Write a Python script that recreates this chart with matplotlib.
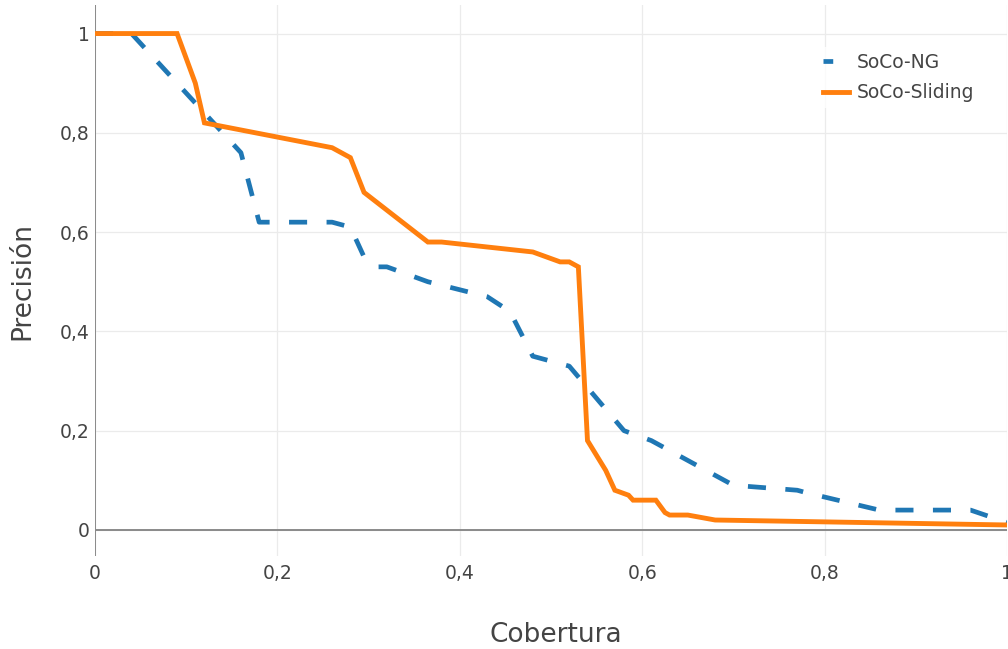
import matplotlib
matplotlib.use("Agg")
import matplotlib.pyplot as plt
from matplotlib.lines import Line2D
from matplotlib.ticker import FuncFormatter

# recall (x) / precision (y)
ng_recall = [0, 0.04, 0.16, 0.18, 0.26, 0.28, 0.295, 0.31, 0.32, 0.365, 0.43, 0.455,
             0.48, 0.5, 0.52, 0.58, 0.61, 0.7, 0.77, 0.78, 0.86, 0.96, 1.0]
ng_precision = [1, 1, 0.76, 0.62, 0.62, 0.61, 0.55, 0.53, 0.53, 0.5, 0.47, 0.44,
                0.35, 0.34, 0.33, 0.2, 0.18, 0.09, 0.08, 0.075, 0.04, 0.04, 0.015]

sl_recall = [0, 0.09, 0.11, 0.12, 0.26, 0.28, 0.295, 0.365, 0.38, 0.48, 0.51, 0.52,
             0.53, 0.54, 0.56, 0.57, 0.585, 0.59, 0.615, 0.625, 0.63, 0.65, 0.68, 1.0]
sl_precision = [1, 1, 0.9, 0.82, 0.77, 0.75, 0.68, 0.58, 0.58, 0.56, 0.54, 0.54,
                0.53, 0.18, 0.12, 0.08, 0.07, 0.06, 0.06, 0.035, 0.03, 0.03, 0.02, 0.01]

series_names = ["SoCo-NG", "SoCo-Sliding"]
ticks = [0, 0.2, 0.4, 0.6, 0.8, 1]

BLUE = "#1f77b4"
ORANGE = "#ff7f0e"
TXT = "#444444"

plt.rcParams["font.family"] = ["DejaVu Sans"]
plt.rcParams["lines.scale_dashes"] = False

fig = plt.figure(figsize=(10.08, 6.49), dpi=100)
ax = fig.add_axes([95 / 1008, 93 / 649, 912 / 1008, 551 / 649])

ax.plot(ng_recall, ng_precision, color=BLUE, lw=3.4, dashes=(13, 14),
        solid_joinstyle="miter", zorder=3)
ax.plot(sl_recall, sl_precision, color=ORANGE, lw=3.5, solid_joinstyle="miter", zorder=4)

ax.set_xlim(0, 1)
ax.set_ylim(-0.0525, 1.0575)
ax.set_xticks(ticks)
ax.set_yticks(ticks)
fmt = FuncFormatter(lambda v, p: ("%g" % round(v, 2)).replace(".", ","))
ax.xaxis.set_major_formatter(fmt)
ax.yaxis.set_major_formatter(fmt)
ax.tick_params(length=0, labelsize=13.5, labelcolor=TXT)
ax.tick_params(axis="x", pad=6)
ax.tick_params(axis="y", pad=4)

for s in ax.spines.values():
    s.set_visible(False)
ax.grid(True, color="#ebebeb", lw=0.9)
ax.axhline(0, color="#8a8a8a", lw=1.4, zorder=2)
ax.axvline(0, color="#8a8a8a", lw=1.4, zorder=2)

ax.set_xlabel("Cobertura", fontsize=19, color=TXT, va="center")
ax.set_ylabel("Precisión", fontsize=19, color=TXT, va="center")
ax.xaxis.set_label_coords(0.505, -0.143)
ax.yaxis.set_label_coords(-0.08, 0.5)

handles = [Line2D([], [], color=BLUE, lw=3.4, dashes=(7, 30)),
           Line2D([], [], color=ORANGE, lw=3.5)]
leg = ax.legend(handles, series_names, loc="upper left",
                bbox_to_anchor=(817 / 1008, 1 - 47 / 649), bbox_transform=fig.transFigure,
                frameon=True, fontsize=13.5, handlelength=1.4, handletextpad=0.43,
                labelspacing=0.62, borderpad=0.3, borderaxespad=0)
leg.get_frame().set_facecolor("white")
leg.get_frame().set_edgecolor("none")
for t in leg.get_texts():
    t.set_color(TXT)

fig.savefig("out.png", dpi=100)
